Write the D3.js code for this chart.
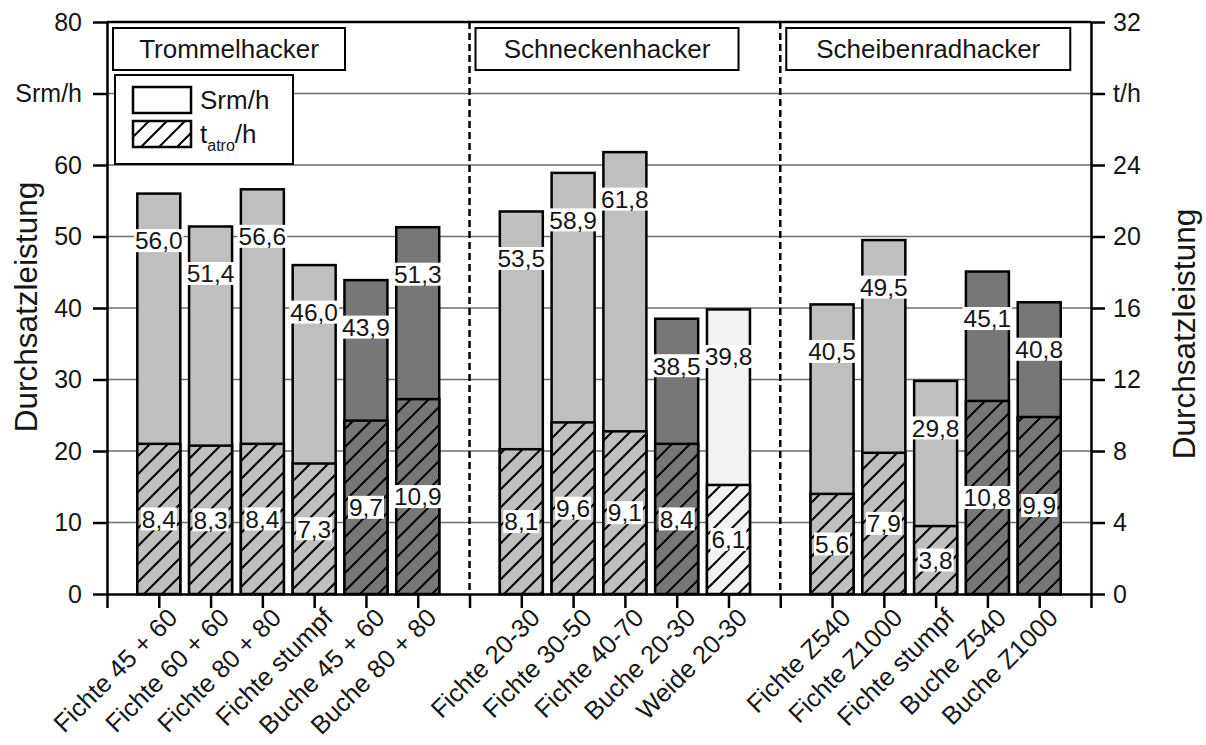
<!DOCTYPE html>
<html>
<head>
<meta charset="utf-8">
<script src="https://cdn.jsdelivr.net/npm/d3@7"></script>
<style>
  html, body { margin: 0; padding: 0; background: #fff; }
  svg { display: block; font-family: "Liberation Sans", Arial, sans-serif; }
</style>
</head>
<body>
<svg id="chart" width="1206" height="745"></svg>
<script>
// Throughput of chippers by machine type and assortment
const groups = ["Trommelhacker", "Schneckenhacker", "Scheibenradhacker"];
const groupSizes = [6, 5, 5];
const categories = [
  "Fichte 45 + 60", "Fichte 60 + 60", "Fichte 80 + 80", "Fichte stumpf", "Buche 45 + 60", "Buche 80 + 80",
  "Fichte 20-30", "Fichte 30-50", "Fichte 40-70", "Buche 20-30", "Weide 20-30",
  "Fichte Z540", "Fichte Z1000", "Fichte stumpf", "Buche Z540", "Buche Z1000"
];
// bulk volume per hour (Srm/h, left axis)
const srmValues = [56.0, 51.4, 56.6, 46.0, 43.9, 51.3, 53.5, 58.9, 61.8, 38.5, 39.8, 40.5, 49.5, 29.8, 45.1, 40.8];
// dry mass per hour (t atro/h, right axis)
const tatroValues = [8.4, 8.3, 8.4, 7.3, 9.7, 10.9, 8.1, 9.6, 9.1, 8.4, 6.1, 5.6, 7.9, 3.8, 10.8, 9.9];
const leftTicks = [0, 10, 20, 30, 40, 50, 60, 70, 80];
const leftTickLabels = ["0", "10", "20", "30", "40", "50", "60", "Srm/h", "80"];
const rightTicks = [0, 4, 8, 12, 16, 20, 24, 28, 32];
const rightTickLabels = ["0", "4", "8", "12", "16", "20", "24", "t/h", "32"];
const axisTitle = "Durchsatzleistung";

// layout
const plot = { left: 107, right: 1091, top: 22, bottom: 594 };
const speciesFill = { Fichte: "#bfbfbf", Buche: "#777777", Weide: "#f2f2f2" };
const titleBoxWidths = [232, 263, 284];
const textColor = "#161616";

const svg = d3.select("#chart");

// slot positions: one empty slot before each group, separators between groups
const slots = [];
const separators = [];
const groupStarts = [];
let s = 0;
groupSizes.forEach((n, gi) => {
  groupStarts.push(s);
  for (let k = 0; k < n; k++) slots.push(s + 1 + k);
  s += n + 1;
  if (gi < groupSizes.length - 1) separators.push(s);
});
const nSlots = s;

const x = d3.scaleLinear().domain([0, nSlots]).range([plot.left, plot.right]);
const yL = d3.scaleLinear().domain([0, 80]).range([plot.bottom, plot.top]);
const yR = d3.scaleLinear().domain([0, 32]).range([plot.bottom, plot.top]);
const slotW = x(1) - x(0);
const barW = slotW * 0.83;

const fmt = v => d3.format(".1f")(v).replace(".", ",");

// hatch patterns, one per species colour
const defs = svg.append("defs");
const hatchFor = color => {
  const id = "hatch-" + color.replace("#", "");
  if (defs.select("#" + id).empty()) {
    const p = defs.append("pattern").attr("id", id)
      .attr("patternUnits", "userSpaceOnUse").attr("width", 18).attr("height", 18)
      .attr("x", 0).attr("y", plot.bottom);
    p.append("rect").attr("width", 18).attr("height", 18).attr("fill", color);
    p.append("path").attr("d", "M0,18L18,0M-4.5,4.5L4.5,-4.5M13.5,22.5L22.5,13.5")
      .attr("stroke", "#000").attr("stroke-width", 2);
  }
  return "url(#" + id + ")";
};

// gridlines
svg.append("g").selectAll("line").data(leftTicks.filter(t => t > 0 && t < 80)).join("line")
  .attr("x1", plot.left).attr("x2", plot.right)
  .attr("y1", d => yL(d)).attr("y2", d => yL(d))
  .attr("stroke", "#6e6e6e").attr("stroke-width", 1.4);
svg.append("line")
  .attr("x1", plot.left).attr("x2", plot.right)
  .attr("y1", yL(80)).attr("y2", yL(80))
  .attr("stroke", "#000").attr("stroke-width", 2.5);

// group separators
svg.append("g").selectAll("line").data(separators).join("line")
  .attr("x1", d => x(d)).attr("x2", d => x(d))
  .attr("y1", plot.top).attr("y2", plot.bottom)
  .attr("stroke", "#000").attr("stroke-width", 2.5).attr("stroke-dasharray", "7,4");

// bars
const data = categories.map((c, i) => ({
  name: c, srm: srmValues[i], tatro: tatroValues[i], slot: slots[i],
  fill: speciesFill[c.split(" ")[0]]
}));
const bars = svg.append("g").selectAll("g").data(data).join("g");
bars.append("rect")
  .attr("x", d => x(d.slot) - barW / 2).attr("width", barW)
  .attr("y", d => yL(d.srm)).attr("height", d => yL(0) - yL(d.srm))
  .attr("fill", d => d.fill).attr("stroke", "#000").attr("stroke-width", 2.5);
bars.append("rect")
  .attr("x", d => x(d.slot) - barW / 2).attr("width", barW)
  .attr("y", d => yR(d.tatro)).attr("height", d => yR(0) - yR(d.tatro))
  .attr("fill", d => hatchFor(d.fill)).attr("stroke", "#000").attr("stroke-width", 2.5);

// value labels with white backing
const addLabel = (g, cx, cy, txt) => {
  const t = g.append("text").attr("x", cx).attr("y", cy).attr("dy", "0.36em")
    .attr("text-anchor", "middle").attr("font-size", 24.5).attr("fill", textColor).text(txt);
  const w = t.node().getComputedTextLength();
  g.insert("rect", "text").attr("x", cx - w / 2 - 1).attr("y", cy - 11.5)
    .attr("width", w + 2).attr("height", 23).attr("fill", "#fff");
};
bars.each(function (d) {
  const g = d3.select(this);
  addLabel(g, x(d.slot), yL(d.srm) + 47, fmt(d.srm));
  addLabel(g, x(d.slot), (yR(d.tatro) + yR(0)) / 2, fmt(d.tatro));
});

// axes
const styleAxis = g => {
  g.select(".domain").attr("stroke", "#000").attr("stroke-width", 2.5);
  g.selectAll(".tick line").attr("stroke", "#000").attr("stroke-width", 2.5);
  g.selectAll(".tick text").attr("font-size", 25).attr("fill", textColor)
    .attr("font-family", "Liberation Sans, Arial, sans-serif");
};
svg.append("g").attr("transform", `translate(${plot.left},0)`)
  .call(d3.axisLeft(yL).tickValues(leftTicks).tickSize(14).tickSizeOuter(0).tickPadding(11)
    .tickFormat((d, i) => leftTickLabels[i]))
  .call(styleAxis);
svg.append("g").attr("transform", `translate(${plot.right},0)`)
  .call(d3.axisRight(yR).tickValues(rightTicks).tickSize(14).tickSizeOuter(0).tickPadding(8)
    .tickFormat((d, i) => rightTickLabels[i]))
  .call(styleAxis);
svg.append("g").attr("transform", `translate(0,${plot.bottom})`)
  .call(d3.axisBottom(x).tickValues(d3.range(0, nSlots + 1)).tickSize(14).tickSizeOuter(0).tickFormat(""))
  .call(styleAxis);

// category labels, rotated
svg.append("g").selectAll("text").data(data).join("text")
  .attr("transform", d => `translate(${x(d.slot) + 14},${plot.bottom + 19}) rotate(-45)`)
  .attr("text-anchor", "end").attr("dy", "0.35em")
  .attr("font-size", 25.5).attr("fill", textColor).text(d => d.name);

// axis titles
svg.append("text").attr("transform", "translate(26,307) rotate(-90)")
  .attr("text-anchor", "middle").attr("dy", "0.35em")
  .attr("font-size", 31.5).attr("fill", textColor).text(axisTitle);
svg.append("text").attr("transform", "translate(1184,334) rotate(-90)")
  .attr("text-anchor", "middle").attr("dy", "0.35em")
  .attr("font-size", 31.5).attr("fill", textColor).text(axisTitle);

// group title boxes
groups.forEach((name, gi) => {
  const bx = x(groupStarts[gi]) + 6;
  const bw = titleBoxWidths[gi];
  svg.append("rect").attr("x", bx).attr("y", 28).attr("width", bw).attr("height", 42)
    .attr("fill", "#fff").attr("stroke", "#000").attr("stroke-width", 2);
  svg.append("text").attr("x", bx + bw / 2).attr("y", 49).attr("dy", "0.36em")
    .attr("text-anchor", "middle").attr("font-size", 26).attr("fill", textColor).text(name);
});

// legend
const lg = svg.append("g");
lg.append("rect").attr("x", 115).attr("y", 75).attr("width", 178).attr("height", 89)
  .attr("fill", "#fff").attr("stroke", "#000").attr("stroke-width", 2);
lg.append("rect").attr("x", 133).attr("y", 87).attr("width", 58).attr("height", 26)
  .attr("fill", "#fff").attr("stroke", "#000").attr("stroke-width", 2.5);
lg.append("rect").attr("x", 133).attr("y", 121).attr("width", 58).attr("height", 26)
  .attr("fill", hatchFor("#ffffff")).attr("stroke", "#000").attr("stroke-width", 2.5);
lg.append("text").attr("x", 200).attr("y", 109).attr("font-size", 26).attr("fill", textColor).text("Srm/h");
const lt = lg.append("text").attr("x", 200).attr("y", 143).attr("font-size", 26).attr("fill", textColor);
lt.append("tspan").text("t");
lt.append("tspan").attr("font-size", 16).attr("dy", 8).text("atro");
lt.append("tspan").attr("dy", -8).text("/h");
</script>
</body>
</html>
